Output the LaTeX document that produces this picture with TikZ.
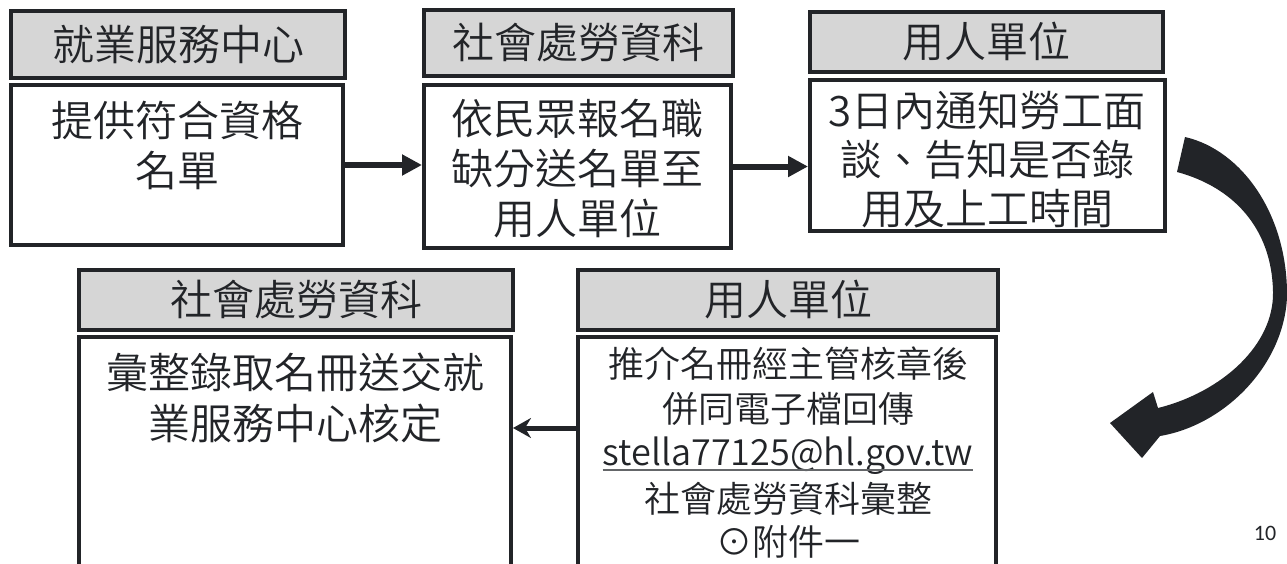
\documentclass[tikz,border=0pt]{standalone}
\usepackage{fontspec}
\IfFontExistsTF{Noto Sans CJK TC DemiLight}
  {\newfontfamily\cjk{Noto Sans CJK TC DemiLight}}
  {\newfontfamily\cjk{Noto Sans CJK TC}}
\newfontfamily\pagefont{Carlito}
\usetikzlibrary{arrows.meta,positioning}
\definecolor{hdrgray}{RGB}{214,214,214}
\definecolor{ink}{RGB}{34,36,40}
\tikzset{
  hdr/.style={draw=ink, line width=4pt, fill=hdrgray, inner sep=0pt, text=ink,
    font=\cjk\fontsize{42}{50}\selectfont},
  bodybox/.style={draw=ink, line width=4pt, fill=white, inner sep=0pt},
  txt/.style={inner sep=0pt, align=center, text=ink,
    font=\cjk\fontsize{42}{50}\selectfont},
  smalltxt/.style={txt, font=\cjk\fontsize{36}{45}\selectfont},
  flecha/.style={draw=ink, line width=6pt, -{Triangle[length=20pt,width=20pt]}},
  flechados/.style={draw=ink, line width=5pt, -{Stealth[length=18pt,width=20pt,inset=6pt]}},
}
\begin{document}
\begin{tikzpicture}[x=1pt,y=-1pt]
\useasboundingbox (0,0) rectangle (1287,563);

% Encabezados
\foreach \n/\cx/\cy/\w/\h/\t in {h1/178/44.5/334/67/就業服務中心,
    h2/578.5/43/309/66/社會處勞資科, h3/986.5/42/353/60/用人單位,
    h4/296/300/434/60/社會處勞資科, h5/788/300/420/60/用人單位}
  \node[hdr, minimum width=\w pt, minimum height=\h pt] (\n) at (\cx,\cy) {\t};

% Cajas
\foreach \n/\cx/\cy/\w/\h in {b1/177/165/332/160, b2/577.5/166.5/307/163,
    b3/987.5/155.5/355/151, b4/295/452.5/432/231, b5/787/452.5/418/231}
  \node[bodybox, minimum width=\w pt, minimum height=\h pt] (\n) at (\cx,\cy) {};

% Textos
\node[txt, anchor=north] (t1) at (177,101) {提供符合資格\\名單};
\node[txt, anchor=north] (t2) at (577,99) {依民眾報名職\\缺分送名單至\\用人單位};
\node[txt, anchor=north, font=\cjk\fontsize{42}{49}\selectfont] (t3) at (987,91)
  {3日內通知勞工面\\談、告知是否錄\\用及上工時間};
\node[txt, anchor=north, font=\cjk\fontsize{42}{51}\selectfont] (t4) at (295,353)
  {彙整錄取名冊送交就\\業服務中心核定};
\node[smalltxt, anchor=north] (t5) at (788,347) {推介名冊經主管核章後\\併同電子檔回傳};
\node[smalltxt, anchor=base] (mail) at (788,465) {stella77125@hl.gov.tw};
\node[smalltxt, anchor=north, font=\cjk\fontsize{36}{43}\selectfont] (t6) at (788,482)
  {社會處勞資科彙整\\⊙附件一};
\draw[ink!70, line width=1.5pt] ([yshift=-5pt]mail.base west) -- ([yshift=-5pt]mail.base east);

% Flechas
\draw[flecha] (b1.east) -- (b1.east -| b2.west);
\draw[flecha] (b2.east) -- (b2.east -| b3.west);
\draw[flechados] ([yshift=24.5pt]b5.west) -- ([yshift=24.5pt]b5.west -| b4.east);

% Flecha curva
\fill[ink] (1185,137) .. controls (1242,150) and (1288,215) .. (1287,297)
  .. controls (1284,365) and (1225,425) .. (1160,436) -- (1142,458) -- (1110,423)
  -- (1153,392) -- (1158,408) .. controls (1222,392) and (1274,345) .. (1273,292)
  .. controls (1272,228) and (1233,187) .. (1177,172) -- cycle;

% Pagina
\node[font=\pagefont\fontsize{22}{22}\selectfont, text=ink] (pag) at (1265,533) {10};
\end{tikzpicture}
\end{document}
